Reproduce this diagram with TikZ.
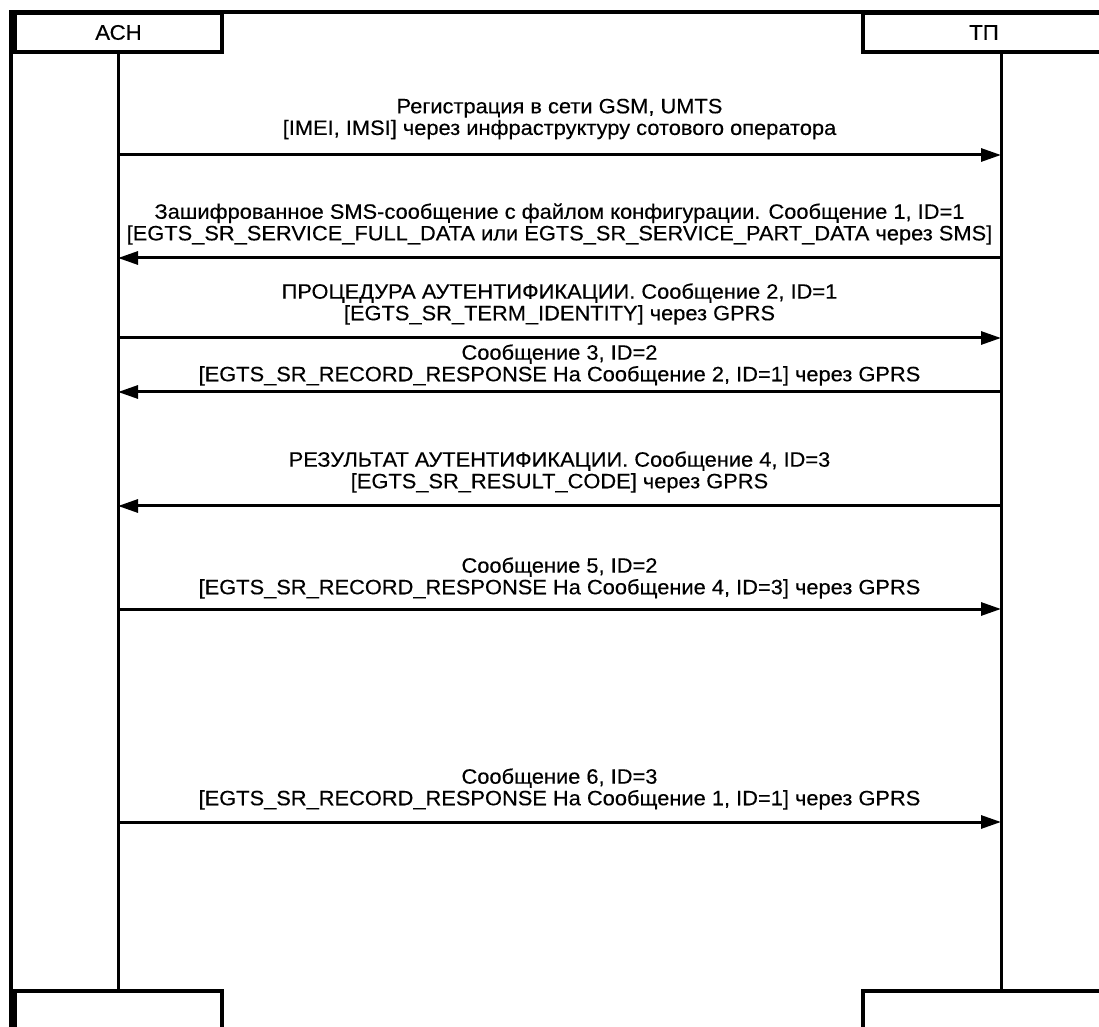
\documentclass[tikz,border=0pt]{standalone}
\usepackage{fontspec}
\setmainfont{Liberation Sans}[FakeStretch=1.05, FakeBold=0.3]
\usetikzlibrary{arrows.meta}

\begin{document}
\begin{tikzpicture}[
  x=0.5pt, y=-0.5pt,
  party/.style={rectangle, draw, line width=1.8pt, minimum height=19.5pt,
                inner sep=0pt, font=\fontsize{10.6}{11}\selectfont},
  life/.style={line width=1.5pt},
  msg/.style={line width=1.5pt, -{Triangle[length=10pt,width=6.5pt]}},
  txt/.style={align=center, inner sep=0pt, font=\fontsize{10.4}{10.8}\selectfont},
]
\useasboundingbox (0,0) rectangle (1099,1027);
% outer frame
\draw[line width=1.6pt] (11,1040) -- (11,12) -- (1110,12);

\node[party, minimum width=103.5pt] (ach) at (118.5,32.5) {АСН};
\node[party, minimum width=121pt] (tp) at (984,32.5) {ТП};
\node[party, minimum width=103.5pt, anchor=north] (achEnd) at (118.5,989) {};
\node[party, minimum width=121pt, anchor=north] (tpEnd) at (984,989) {};

% lifelines
\coordinate (L) at (118,0);
\coordinate (R) at (1001,0);
\draw[life] (ach.south -| L) -- (achEnd.north -| L);
\draw[life] (tp.south -| R) -- (tpEnd.north -| R);

% messages
\coordinate (l1) at (118,155); \coordinate (r1) at (1001,155);
\coordinate (l2) at (118,258); \coordinate (r2) at (1001,258);
\coordinate (l3) at (118,338); \coordinate (r3) at (1001,338);
\coordinate (l4) at (118,392); \coordinate (r4) at (1001,392);
\coordinate (l5) at (118,506); \coordinate (r5) at (1001,506);
\coordinate (l6) at (118,609); \coordinate (r6) at (1001,609);
\coordinate (l7) at (118,822); \coordinate (r7) at (1001,822);

\draw[msg] (l1) -- node[txt, yshift=18pt] (m1) {Регистрация в сети GSM, UMTS\\{}[IMEI, IMSI] через инфраструктуру сотового оператора} (r1);
\draw[msg] (r2) -- node[txt, yshift=17pt] (m2) {Зашифрованное SMS-сообщение с файлом конфигурации. Сообщение 1, ID=1\\{}[EGTS\_SR\_SERVICE\_FULL\_DATA или EGTS\_SR\_SERVICE\_PART\_DATA через SMS]} (l2);
\draw[msg] (l3) -- node[txt, yshift=17pt] (m3) {ПРОЦЕДУРА АУТЕНТИФИКАЦИИ. Сообщение 2, ID=1\\{}[EGTS\_SR\_TERM\_IDENTITY] через GPRS} (r3);
\draw[msg] (r4) -- node[txt, yshift=13.5pt] (m4) {Сообщение 3, ID=2\\{}[EGTS\_SR\_RECORD\_RESPONSE На Сообщение 2, ID=1] через GPRS} (l4);
\draw[msg] (r5) -- node[txt, yshift=17pt] (m5) {РЕЗУЛЬТАТ АУТЕНТИФИКАЦИИ. Сообщение 4, ID=3\\{}[EGTS\_SR\_RESULT\_CODE] через GPRS} (l5);
\draw[msg] (l6) -- node[txt, yshift=15.5pt] (m6) {Сообщение 5, ID=2\\{}[EGTS\_SR\_RECORD\_RESPONSE На Сообщение 4, ID=3] через GPRS} (r6);
\draw[msg] (l7) -- node[txt, yshift=16.5pt] (m7) {Сообщение 6, ID=3\\{}[EGTS\_SR\_RECORD\_RESPONSE На Сообщение 1, ID=1] через GPRS} (r7);
\end{tikzpicture}
\end{document}
